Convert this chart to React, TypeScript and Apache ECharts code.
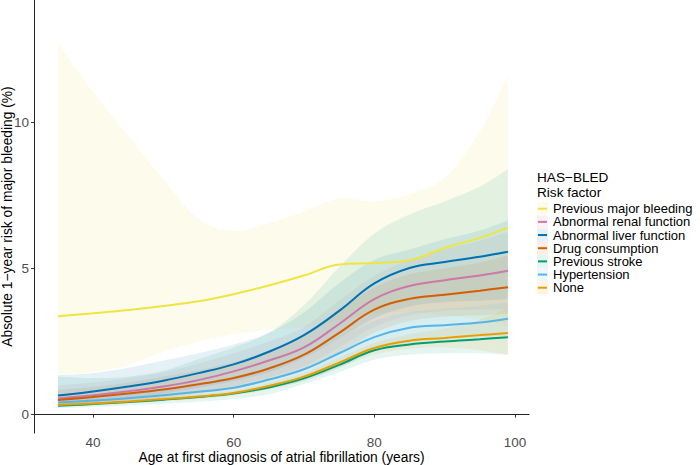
import React, { useEffect, useRef } from "react";
import * as echarts from "echarts";

const ages = [35, 40, 45, 50, 55, 60, 65, 70, 75, 80, 85, 90, 95, 99];

const riskFactors = [
  "Previous major bleeding",
  "Abnormal renal function",
  "Abnormal liver function",
  "Drug consumption",
  "Previous stroke",
  "Hypertension",
  "None",
];
const riskColors = ["#F0E442", "#CC79A7", "#0072B2", "#D55E00", "#009E73", "#56B4E9", "#E69F00"];

const bleedingMean = [3.37, 3.47, 3.58, 3.72, 3.88, 4.12, 4.42, 4.76, 5.14, 5.19, 5.28, 5.7, 6.05, 6.4];
const bleedingLower = [1.37, 1.45, 1.7, 2.15, 2.5, 2.75, 2.9, 3.0, 3.2, 3.45, 3.5, 3.4, 3.25, 3.0];
const bleedingUpper = [12.7, 11.05, 9.55, 8.05, 6.7, 6.28, 6.55, 6.95, 7.4, 7.3, 7.55, 8.1, 9.7, 11.6];

const renalMean = [0.55, 0.66, 0.8, 0.96, 1.18, 1.48, 1.85, 2.3, 3.1, 3.95, 4.4, 4.6, 4.76, 4.92];
const renalLower = [0.3, 0.38, 0.48, 0.6, 0.76, 0.98, 1.28, 1.65, 2.3, 3.0, 3.4, 3.55, 3.6, 3.6];
const renalUpper = [1.0, 1.1, 1.25, 1.45, 1.75, 2.1, 2.5, 3.0, 3.9, 4.75, 5.3, 5.65, 5.95, 6.25];

const liverMean = [0.65, 0.79, 0.96, 1.16, 1.42, 1.72, 2.15, 2.72, 3.55, 4.49, 5.02, 5.22, 5.4, 5.57];
const liverLower = [0.3, 0.42, 0.55, 0.72, 0.92, 1.15, 1.45, 1.95, 2.6, 3.3, 3.7, 3.85, 3.9, 3.95];
const liverUpper = [1.35, 1.42, 1.6, 1.85, 2.1, 2.4, 2.8, 3.5, 4.5, 5.3, 5.65, 6.0, 6.3, 6.65];

const drugMean = [0.5, 0.6, 0.72, 0.86, 1.04, 1.25, 1.58, 2.05, 2.8, 3.59, 3.96, 4.1, 4.24, 4.36];
const drugLower = [0.3, 0.38, 0.47, 0.58, 0.72, 0.88, 1.15, 1.52, 2.1, 2.8, 3.2, 3.35, 3.4, 3.45];
const drugUpper = [0.85, 0.95, 1.1, 1.3, 1.52, 1.8, 2.2, 2.75, 3.55, 4.35, 4.8, 5.0, 5.2, 5.45];

const strokeMean = [0.3, 0.36, 0.43, 0.51, 0.6, 0.72, 0.93, 1.24, 1.7, 2.2, 2.4, 2.5, 2.58, 2.65];
const strokeLower = [0.22, 0.26, 0.31, 0.37, 0.44, 0.53, 0.7, 1.05, 1.45, 1.88, 2.05, 2.1, 2.1, 2.05];
const strokeUpper = [1.3, 1.25, 1.3, 1.5, 1.9, 2.3, 2.8, 3.75, 5.05, 6.2, 6.85, 7.3, 7.8, 8.4];

const hypertensionMean = [0.41, 0.48, 0.56, 0.66, 0.78, 0.92, 1.2, 1.55, 2.1, 2.65, 2.97, 3.06, 3.15, 3.28];
const hypertensionLower = [0.28, 0.33, 0.4, 0.48, 0.57, 0.68, 0.88, 1.15, 1.6, 2.15, 2.45, 2.6, 2.65, 2.7];
const hypertensionUpper = [0.6, 0.68, 0.78, 0.9, 1.05, 1.25, 1.55, 2.0, 2.6, 3.2, 3.5, 3.62, 3.72, 3.85];

const noneMean = [0.33, 0.38, 0.45, 0.53, 0.62, 0.74, 0.98, 1.3, 1.78, 2.28, 2.53, 2.62, 2.72, 2.79];
const noneLower = [0.27, 0.32, 0.38, 0.46, 0.54, 0.66, 0.86, 1.15, 1.6, 2.05, 2.25, 2.3, 2.2, 2.05];
const noneUpper = [0.4, 0.45, 0.52, 0.6, 0.7, 0.82, 1.08, 1.42, 1.95, 2.45, 2.75, 2.95, 3.25, 3.65];

const means = [bleedingMean, renalMean, liverMean, drugMean, strokeMean, hypertensionMean, noneMean];
const lowers = [bleedingLower, renalLower, liverLower, drugLower, strokeLower, hypertensionLower, noneLower];
const uppers = [bleedingUpper, renalUpper, liverUpper, drugUpper, strokeUpper, hypertensionUpper, noneUpper];

const xTicks = [40, 60, 80, 100];
const yTicks = [0, 5, 10];

const FONT = "'Liberation Sans', Arial, Helvetica, sans-serif";

function hexToRgba(hex: string, a: number) {
  const n = parseInt(hex.slice(1), 16);
  return `rgba(${(n >> 16) & 255},${(n >> 8) & 255},${n & 255},${a})`;
}

// Catmull-Rom sampling in pixel space (drawing only, through points given by the axes)
function splinePixels(pts: number[][], steps = 10): number[][] {
  const out: number[][] = [];
  const n = pts.length;
  for (let i = 0; i < n - 1; i++) {
    const p0 = pts[Math.max(0, i - 1)];
    const p1 = pts[i];
    const p2 = pts[i + 1];
    const p3 = pts[Math.min(n - 1, i + 2)];
    for (let s = 0; s < steps; s++) {
      const t = s / steps;
      const t2 = t * t;
      const t3 = t2 * t;
      const f = (a: number, b: number, c: number, d: number) =>
        0.5 * (2 * b + (-a + c) * t + (2 * a - 5 * b + 4 * c - d) * t2 + (-a + 3 * b - 3 * c + d) * t3);
      out.push([f(p0[0], p1[0], p2[0], p3[0]), f(p0[1], p1[1], p2[1], p3[1])]);
    }
  }
  out.push(pts[n - 1]);
  return out;
}

export default function App() {
  const ref = useRef<HTMLDivElement>(null);

  useEffect(() => {
    document.body.style.margin = "0";
    if (!ref.current) return;
    const chart = echarts.init(ref.current, null, { renderer: "svg" });

    const series: any[] = [];
    riskFactors.forEach((name, i) => {
      series.push({
        type: "custom",
        name: name + " CI",
        data: ages.map((a, k) => [a, lowers[i][k], uppers[i][k]]),
        encode: { x: 0, y: [1, 2] },
        silent: true,
        z: 1,
        renderItem: (params: any, api: any) => {
          if (params.dataIndex !== 0) return null;
          const up = ages.map((a, k) => api.coord([a, uppers[i][k]]));
          const lo = ages.map((a, k) => api.coord([a, lowers[i][k]]));
          const upS = splinePixels(up);
          const loS = splinePixels(lo).reverse();
          return {
            type: "polygon",
            shape: { points: upS.concat(loS) },
            style: { fill: riskColors[i], opacity: 0.1 },
          };
        },
      });
    });
    riskFactors.forEach((name, i) => {
      series.push({
        type: "line",
        name,
        data: ages.map((a, k) => [a, means[i][k]]),
        symbol: "none",
        smooth: 0.4,
        lineStyle: { color: riskColors[i], width: 2 },
        itemStyle: { color: riskColors[i] },
        z: 3,
      });
    });

    const legendX = 537;
    const itemY0 = 208.7;
    const step = 13.17;
    const graphics: any[] = [
      {
        type: "text",
        x: legendX,
        y: 177.8,
        style: { text: "HAS\u2212BLED", font: `13.6px ${FONT}`, fill: "#000", verticalAlign: "middle" },
      },
      {
        type: "text",
        x: legendX,
        y: 192.5,
        style: { text: "Risk factor", font: `13.6px ${FONT}`, fill: "#000", verticalAlign: "middle" },
      },
    ];
    riskFactors.forEach((name, i) => {
      const cy = itemY0 + i * step;
      graphics.push({
        type: "rect",
        shape: { x: legendX, y: cy - 6.5, width: 11, height: 13 },
        style: { fill: hexToRgba(riskColors[i], 0.1) },
      });
      graphics.push({
        type: "line",
        shape: { x1: legendX + 1, y1: cy, x2: legendX + 10, y2: cy },
        style: { stroke: riskColors[i], lineWidth: 2 },
      });
      graphics.push({
        type: "text",
        x: legendX + 16,
        y: cy,
        style: { text: name, font: `13px ${FONT}`, fill: "#000", verticalAlign: "middle" },
      });
    });

    chart.setOption({
      animation: false,
      backgroundColor: "#fff",
      grid: { left: 34, top: 0, width: 495, height: 433, containLabel: false, outerBoundsMode: "none" },
      xAxis: {
        type: "value",
        min: 31.6,
        max: 102.0,
        splitLine: { show: false },
        axisLine: { show: true, lineStyle: { color: "#222", width: 1 } },
        axisTick: { show: true, length: 3, lineStyle: { color: "#333" }, customValues: xTicks },
        axisLabel: { color: "#4D4D4D", fontSize: 13.5, fontFamily: FONT, margin: 2, customValues: xTicks },
        name: "Age at first diagnosis of atrial fibrillation (years)",
        nameLocation: "middle",
        nameGap: 17.5,
        nameMoveOverlap: false,
        nameTextStyle: { color: "#000", fontSize: 13.8, fontFamily: FONT, verticalAlign: "top" },
      },
      yAxis: {
        type: "value",
        min: -0.63,
        max: 14.19,
        splitLine: { show: false },
        axisLine: { show: true, lineStyle: { color: "#222", width: 1 } },
        axisTick: { show: true, length: 3, lineStyle: { color: "#333" }, customValues: yTicks },
        axisLabel: { color: "#4D4D4D", fontSize: 13.5, fontFamily: FONT, margin: 5, customValues: yTicks },
        name: "Absolute 1\u2212year risk of major bleeding (%)",
        nameLocation: "middle",
        nameGap: 20,
        nameRotate: 90,
        nameMoveOverlap: false,
        nameTextStyle: { color: "#000", fontSize: 13.8, fontFamily: FONT },
      },
      series,
      graphic: graphics,
    });

    return () => chart.dispose();
  }, []);

  return <div ref={ref} style={{ width: 700, height: 465 }} />;
}
